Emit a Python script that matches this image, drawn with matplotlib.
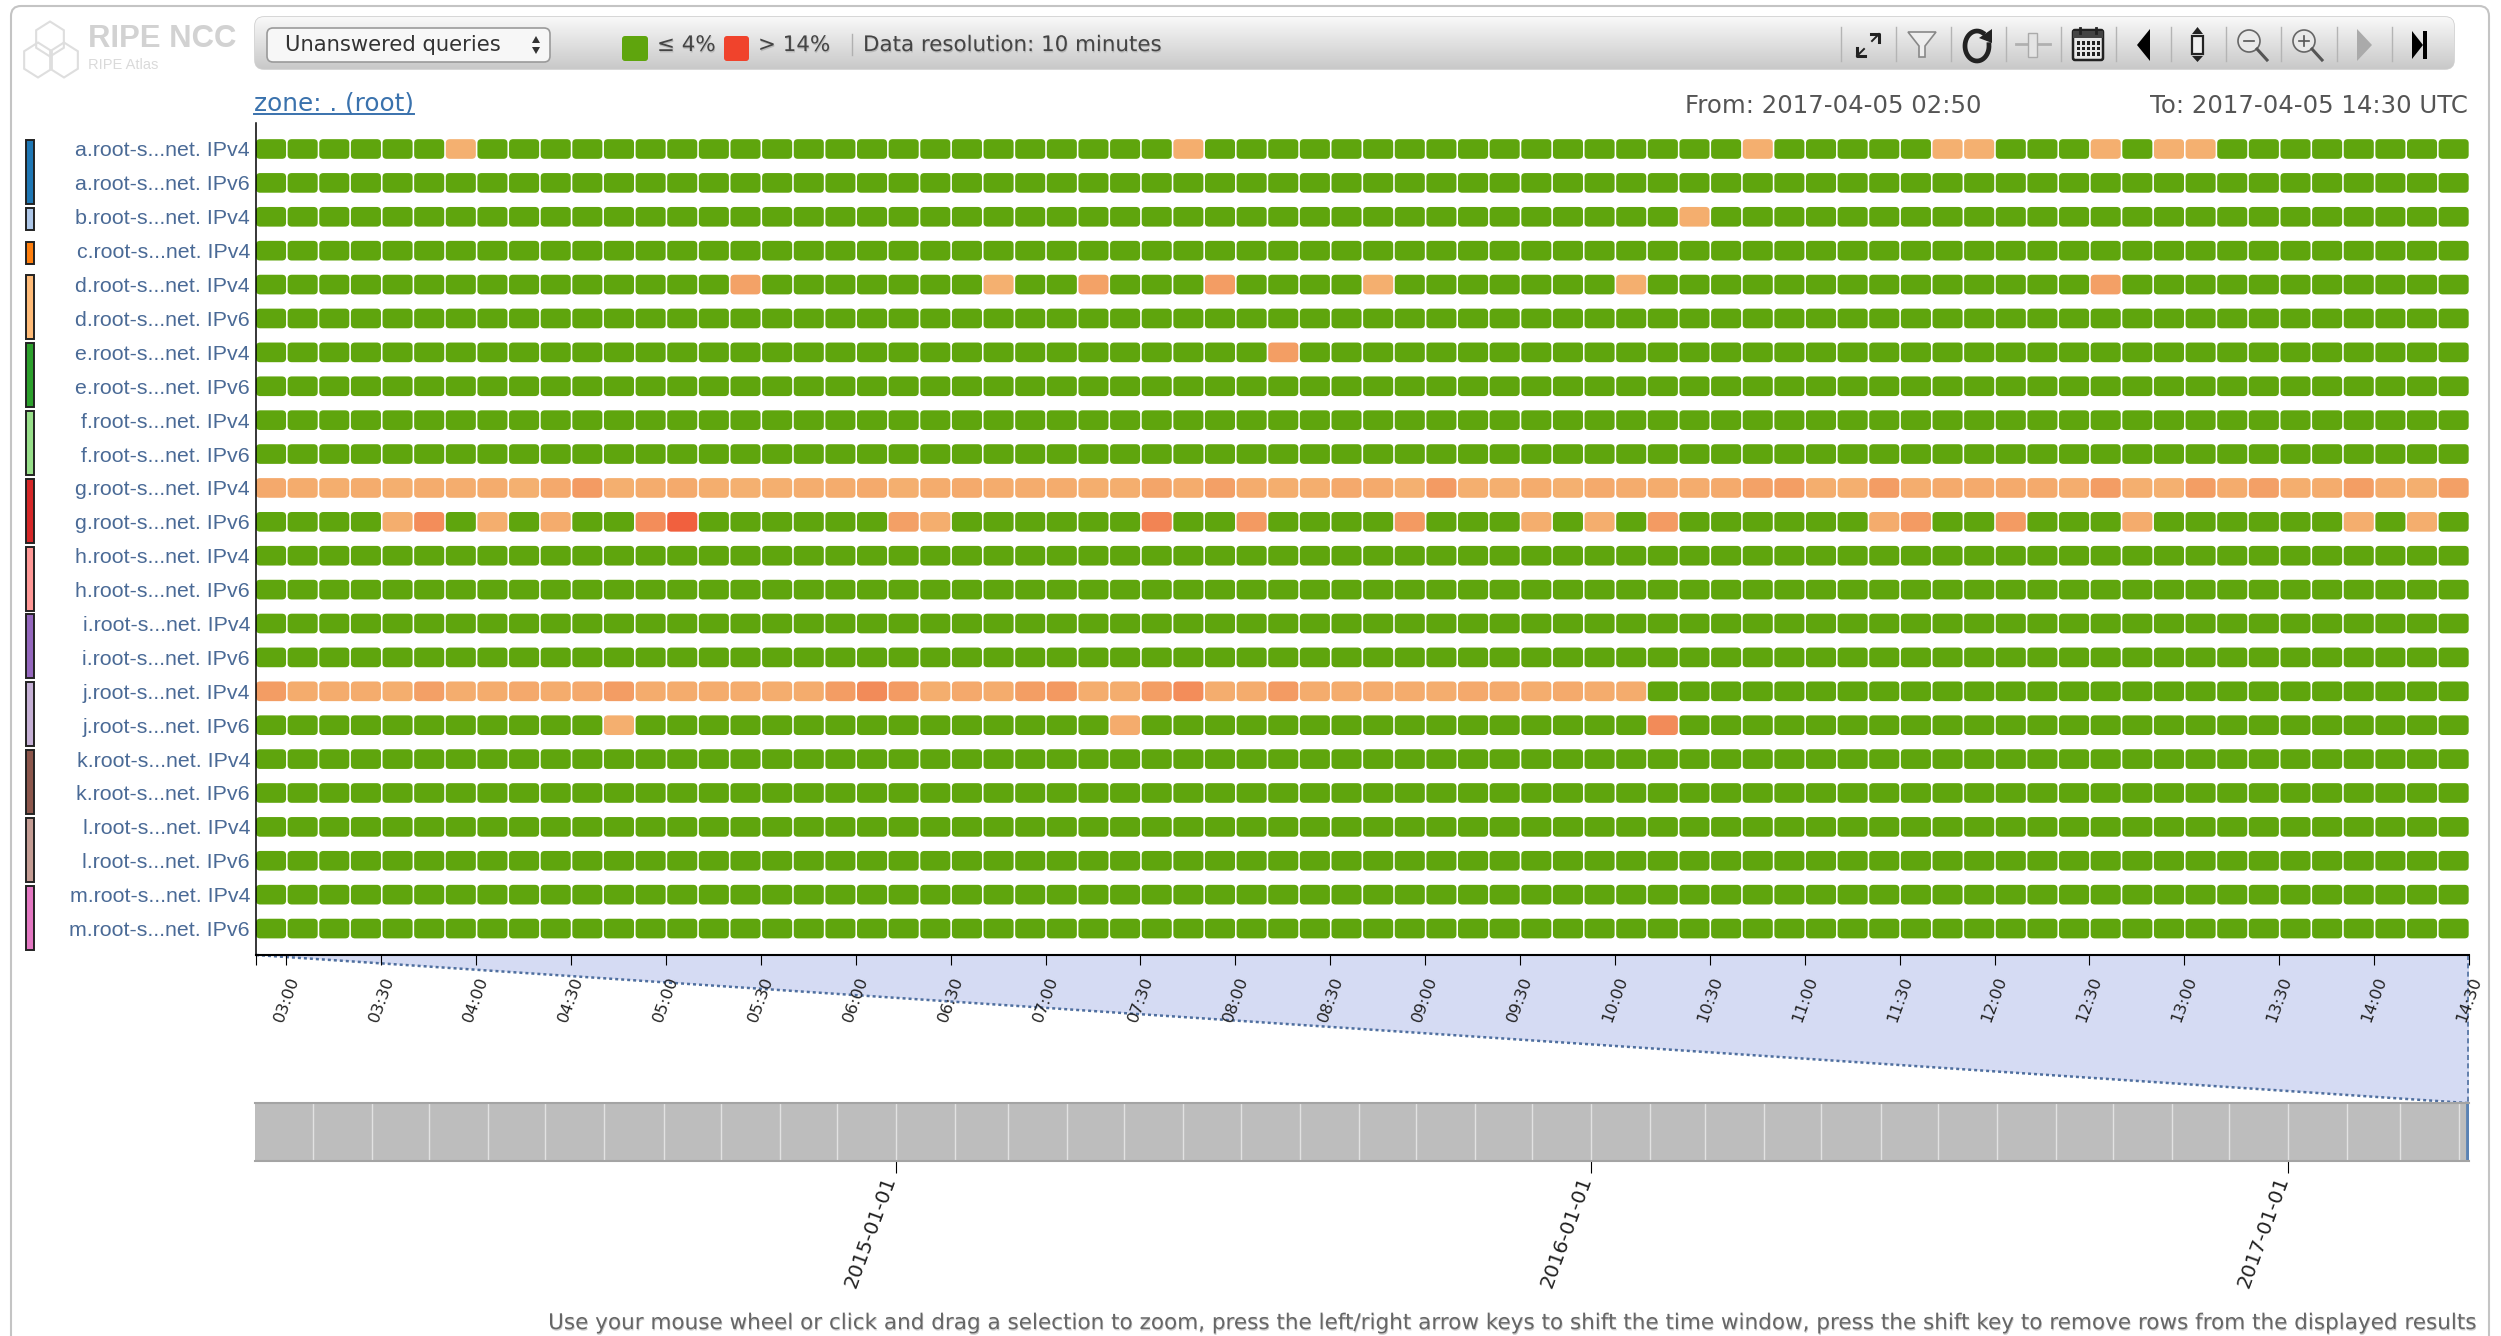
import matplotlib

matplotlib.use("Agg")
import matplotlib.patheffects as pe
import matplotlib.pyplot as plt
import numpy as np
import pandas as pd
from matplotlib.colors import LinearSegmentedColormap
from matplotlib.dates import date2num
from matplotlib.patches import Circle, FancyBboxPatch, Polygon, Rectangle
from matplotlib.transforms import ScaledTranslation

W, H = 2501, 1336

row_labels = [
    "a.root-s...net. IPv4", "a.root-s...net. IPv6", "b.root-s...net. IPv4", "c.root-s...net. IPv4",
    "d.root-s...net. IPv4", "d.root-s...net. IPv6", "e.root-s...net. IPv4", "e.root-s...net. IPv6",
    "f.root-s...net. IPv4", "f.root-s...net. IPv6", "g.root-s...net. IPv4", "g.root-s...net. IPv6",
    "h.root-s...net. IPv4", "h.root-s...net. IPv6", "i.root-s...net. IPv4", "i.root-s...net. IPv6",
    "j.root-s...net. IPv4", "j.root-s...net. IPv6", "k.root-s...net. IPv4", "k.root-s...net. IPv6",
    "l.root-s...net. IPv4", "l.root-s...net. IPv6", "m.root-s...net. IPv4", "m.root-s...net. IPv6",
]

# server letter -> colour of the bar left of the labels
server_colors = {
    "a": "#1f77b4", "b": "#aec7e8", "c": "#ff7f0e", "d": "#ffbb78", "e": "#2ca02c",
    "f": "#98df8a", "g": "#d62728", "h": "#ff9896", "i": "#9467bd", "j": "#c5b0d5",
    "k": "#8c564b", "l": "#c49c94", "m": "#e377c2",
}

n_cells = 70  # 02:50 to 14:30, one cell per 10 minutes

# unanswered queries in %, only the cells above the 4% threshold, per row
a_v4 = {6: 4.6, 29: 4.8, 47: 4.7, 53: 4.6, 54: 4.6, 58: 4.7, 60: 4.6, 61: 4.6}
b_v4 = {45: 4.8}
d_v4 = {15: 5.8, 23: 4.6, 26: 5.8, 30: 6.3, 35: 4.7, 43: 4.7, 58: 6.0}
e_v4 = {32: 6.2}
g_v4 = [
    5.2, 5.0, 4.8, 5.0, 4.7, 5.0, 4.9, 5.0, 4.6, 5.2, 6.4, 4.7, 5.0, 5.1, 4.8, 4.6, 4.7, 4.9, 5.0, 5.1,
    4.7, 5.0, 5.1, 5.0, 5.0, 5.0, 4.8, 4.8, 5.6, 5.0, 6.0, 5.0, 4.8, 4.8, 5.2, 5.1, 4.6, 6.4, 4.7, 4.7,
    5.0, 4.6, 5.1, 5.0, 5.0, 5.0, 5.1, 5.8, 6.2, 4.8, 4.7, 6.3, 4.9, 5.1, 5.1, 5.1, 5.1, 4.9, 6.3, 4.7,
    4.6, 6.2, 5.0, 6.0, 4.8, 5.0, 6.2, 5.0, 4.7, 6.0,
]
g_v6 = {
    4: 4.8, 5: 7.6, 7: 4.8, 9: 5.0, 12: 7.6, 13: 11.5, 20: 6.0, 21: 4.8, 28: 8.4, 31: 6.5, 36: 6.5,
    40: 4.8, 42: 4.8, 44: 6.4, 51: 5.0, 52: 6.4, 55: 6.4, 59: 5.0, 66: 4.8, 68: 4.8,
}
j_v4 = [
    6.3, 5.0, 5.0, 5.0, 4.8, 6.0, 4.9, 5.0, 5.2, 5.0, 5.2, 6.3, 5.0, 5.0, 5.0, 5.0, 4.9, 5.0, 6.3, 7.8,
    6.4, 4.8, 5.2, 5.0, 6.2, 6.6, 4.9, 4.9, 6.2, 7.6, 4.9, 5.0, 6.4, 5.0, 5.0, 5.0, 5.0, 4.9, 5.2, 5.1,
    4.9, 5.1, 5.0, 5.0,
]
j_v6 = {11: 4.7, 27: 5.0, 44: 7.8}

sparse_rows = {0: a_v4, 2: b_v4, 4: d_v4, 6: e_v4, 11: g_v6, 17: j_v6}
dense_rows = {10: g_v4, 16: j_v4}

time_tick_labels = [
    "03:00", "03:30", "04:00", "04:30", "05:00", "05:30", "06:00", "06:30", "07:00", "07:30", "08:00", "08:30",
    "09:00", "09:30", "10:00", "10:30", "11:00", "11:30", "12:00", "12:30", "13:00", "13:30", "14:00", "14:30",
]

overview_start = "2014-01-29 12:00"
overview_end = "2017-04-06 00:00"
selection_start = "2017-04-05 02:50"
selection_end = "2017-04-05 14:30"
overview_months = pd.date_range("2014-03-01", "2017-04-01", freq="MS")
overview_ticks = ["2015-01-01", "2016-01-01", "2017-01-01"]

GREEN = "#5fa50d"
RED = "#f0432c"
orange_scale = LinearSegmentedColormap.from_list("unanswered", ["#f4b774", RED])


def add_axes_px(fig, x0, y0, x1, y1, **kwargs):
    return fig.add_axes([x0 / W, 1 - y1 / H, (x1 - x0) / W, (y1 - y0) / H], **kwargs)


def cell_color(value):
    if value <= 4:
        return GREEN
    return orange_scale((value - 4) / 10)


def row_values(row):
    values = np.full(n_cells, 1.0)
    if row in dense_rows:
        dense = dense_rows[row]
        values[: len(dense)] = dense
    for cell, value in sparse_rows.get(row, {}).items():
        values[cell] = value
    return values


def draw_page(ax):
    """Frame, toolbar and logo, in pixel coordinates."""
    ax.add_patch(FancyBboxPatch((11, 6), 2478, 1400, boxstyle="round,pad=0,rounding_size=10",
                                fc="white", ec="#c4c4c4", lw=1.5))

    # logo
    for cx, cy in [(50, 39), (38, 60), (64, 60)]:
        angles = np.deg2rad(np.arange(30, 390, 60))
        ax.add_patch(Polygon(np.c_[cx + 16 * np.cos(angles), cy + 17.5 * np.sin(angles)],
                             closed=True, fc="none", ec="#dedede", lw=1.5))
    ax.text(88, 39, "RIPE NCC", family="Liberation Sans", weight="bold", fontsize=22.4, color="#d2d2d2", va="center")
    ax.text(88, 65, "RIPE Atlas", family="Liberation Sans", fontsize=10.5, color="#dadada", va="center")

    # toolbar
    bar = FancyBboxPatch((255, 17), 2199, 52, boxstyle="round,pad=0,rounding_size=9", fc="none",
                         ec="#d0d0d0", lw=1.2)
    ax.add_patch(bar)
    gradient = np.linspace(0, 1, 60)[:, None]
    img = ax.imshow(gradient, extent=(255, 2454, 69, 17), aspect="auto", zorder=1,
                    cmap=LinearSegmentedColormap.from_list("bar", ["#f8f8f8", "#c9c9c9"]))
    img.set_clip_path(bar)
    ax.set_xlim(0, W)
    ax.set_ylim(H, 0)

    shadow = [pe.withSimplePatchShadow(offset=(0.5, -1), shadow_rgbFace="#999999", alpha=0.5)]

    ax.add_patch(FancyBboxPatch((267, 28), 283, 34, boxstyle="round,pad=0,rounding_size=6", fc="#f7f7f7",
                                ec="#9a9a9a", lw=1.2, zorder=2))
    ax.text(285, 45, "Unanswered queries", fontsize=15.2, color="#333333", va="center", zorder=3)
    ax.add_patch(Polygon([(532, 43), (540, 43), (536, 36)], fc="#333333", zorder=3))
    ax.add_patch(Polygon([(532, 47), (540, 47), (536, 54)], fc="#333333", zorder=3))

    ax.add_patch(FancyBboxPatch((622, 36), 26, 25, boxstyle="round,pad=0,rounding_size=3", fc=GREEN, ec="none", zorder=2))
    ax.text(657, 45, "≤ 4%", fontsize=15.4, color="#444444", va="center", zorder=3, path_effects=shadow)
    ax.add_patch(FancyBboxPatch((724, 36), 25, 25, boxstyle="round,pad=0,rounding_size=3", fc=RED, ec="none", zorder=2))
    ax.text(758, 45, "> 14%", fontsize=15.4, color="#444444", va="center", zorder=3, path_effects=shadow)
    ax.plot([852, 852], [34, 55], color="#b0b0b0", lw=1, zorder=2)
    ax.text(863, 45, "Data resolution: 10 minutes", fontsize=15.4, color="#444444", va="center", zorder=3,
            path_effects=shadow)

    for sep in [1841, 1896, 1951, 2006, 2061, 2116, 2171, 2226, 2281, 2337, 2392]:
        ax.plot([sep, sep], [27, 61], color="#b4b4b4", lw=1, zorder=2)

    draw_icons(ax)

    ax.text(254, 103, "zone: . (root)", fontsize=17.8, color="#3a72ad", va="center")
    ax.plot([254, 414], [114, 114], color="#3a72ad", lw=1.4)
    ax.text(1685, 106, "From: 2017-04-05 02:50", fontsize=17.6, color="#555555", va="center")
    ax.text(2468, 106, "To: 2017-04-05 14:30 UTC", fontsize=17.6, color="#555555", va="center", ha="right")

    ax.text(2478, 1323, "Use your mouse wheel or click and drag a selection to zoom, press the left/right arrow keys "
            "to shift the time window, press the shift key to remove rows from the displayed results",
            fontsize=15.5, color="#666666", va="center", ha="right", path_effects=shadow)


def draw_icons(ax):
    z = 3
    dark = "#222222"
    # fullscreen arrows
    cx = 1868
    for sx, sy in [(-1, 1), (1, -1)]:
        ax.plot([cx + sx * 11, cx + sx * 11, cx + sx * 3], [45 + sy * 3, 45 + sy * 11, 45 + sy * 11], color=dark, lw=2.2, zorder=z)
        ax.plot([cx + sx * 11, cx + sx * 4], [45 + sy * 11, 45 + sy * 4], color=dark, lw=1.4, zorder=z)
    # funnel
    ax.add_patch(Polygon([(1908, 32), (1936, 32), (1925, 46), (1925, 57), (1919, 57), (1919, 46)],
                         fc="#eeeeee", ec="#888888", lw=1.2, zorder=z))
    # reload
    angles = np.deg2rad(np.linspace(-5, 300, 40))
    ax.plot(1977 + 12 * np.cos(angles), 46 + 15 * np.sin(angles), color=dark, lw=3.4, zorder=z)
    ax.add_patch(Polygon([(1979, 38), (1992, 29), (1992, 43)], fc=dark, zorder=z))
    # pale cross
    ax.plot([2016, 2050], [44, 44], color="#b0b0b0", lw=2, zorder=z)
    ax.add_patch(Rectangle((2028, 33), 9, 24, fc="#e4e4e4", ec="#aaaaaa", lw=1, zorder=z))
    # calendar
    ax.add_patch(FancyBboxPatch((2073, 30), 30, 30, boxstyle="round,pad=0,rounding_size=2", fc="#e8e8e8", ec=dark, lw=1.8, zorder=z))
    ax.add_patch(Rectangle((2073, 31), 30, 7, fc="#444444", ec="none", zorder=z))
    ax.plot([2080, 2080], [28, 33], color=dark, lw=2, zorder=z)
    ax.plot([2096, 2096], [28, 33], color=dark, lw=2, zorder=z)
    for col in range(5):
        for line in range(3):
            ax.add_patch(Rectangle((2077 + col * 5, 41 + line * 5.7), 3, 3.5, fc=dark, ec="none", zorder=z))
    # left triangle
    ax.add_patch(Polygon([(2137, 45), (2150, 29), (2150, 61)], fc="black", zorder=z))
    # up and down box
    ax.add_patch(Rectangle((2192, 36), 11, 18, fc="#efefef", ec=dark, lw=1.6, zorder=z))
    ax.add_patch(Polygon([(2192, 34), (2203, 34), (2197.5, 27)], fc=dark, zorder=z))
    ax.add_patch(Polygon([(2192, 56), (2203, 56), (2197.5, 62)], fc=dark, zorder=z))
    # zoom buttons
    for cx, plus in [(2250, False), (2305, True)]:
        ax.add_patch(Circle((cx - 1, 41), 11, fc="#e9e9e9", ec="#666666", lw=1.2, zorder=z))
        ax.plot([cx + 7, cx + 17], [49, 60], color="#555555", lw=2.2, zorder=z)
        ax.plot([cx - 6, cx + 4], [41, 41], color="#555555", lw=1.2, zorder=z)
        if plus:
            ax.plot([cx - 1, cx - 1], [36, 46], color="#555555", lw=1.2, zorder=z)
    # right triangle, disabled
    ax.add_patch(Polygon([(2357, 29), (2372, 45), (2357, 61)], fc="#aaaaaa", zorder=z))
    # skip to end
    ax.add_patch(Polygon([(2412, 31), (2423, 45), (2412, 59)], fc="black", zorder=z))
    ax.add_patch(Rectangle((2423, 31), 4, 28, fc="black", zorder=z))


def draw_heatmap(ax):
    for row in range(len(row_labels)):
        values = row_values(row)
        for cell in range(n_cells):
            ax.add_patch(FancyBboxPatch((10 * cell + 0.4, row - 0.29), 9.5, 0.58,
                                        boxstyle="round,pad=0,rounding_size=1.3", mutation_aspect=0.09,
                                        fc=cell_color(values[cell]), ec="none"))
    ax.set_xlim(0.4, 700)
    ax.set_ylim(23.78, -0.767)
    ax.patch.set_alpha(0)
    for side in ["top", "right"]:
        ax.spines[side].set_visible(False)
    ax.spines["left"].set_linewidth(1.1)
    ax.spines["bottom"].set_linewidth(1.5)

    ax.set_yticks(range(len(row_labels)))
    ax.set_yticklabels(row_labels, family="Liberation Sans", fontsize=15.4, color="#4a6a96")
    ax.tick_params(axis="y", length=0, pad=4.3)

    ticks = [0.4] + [10 + 30 * i for i in range(len(time_tick_labels))]
    ax.set_xticks(ticks)
    ax.set_xticklabels([""] + time_tick_labels, rotation=70, ha="center", va="top", fontsize=11.8, color="#222222")
    ax.tick_params(axis="x", length=7.2, width=0.8, pad=7)

    # colour bars by server
    letters = [label[0] for label in row_labels]
    bar_x = -230.5 / 2213
    bar_w = 8.5 / 2213
    transform = ax.get_yaxis_transform()
    for letter, color in server_colors.items():
        first = letters.index(letter)
        count = letters.count(letter)
        bottom = first + count - 1 + (0.62 if count > 1 else 0.38)
        ax.add_patch(Rectangle((bar_x, first - 0.27), bar_w, bottom - first + 0.27, transform=transform,
                               clip_on=False, fc=color, ec="#222222", lw=1.4))


def draw_overview(ax):
    ax.set_facecolor("#bdbdbd")
    ax.set_xlim(date2num(pd.Timestamp(overview_start)), date2num(pd.Timestamp(overview_end)))
    ax.set_ylim(0, 1)
    ax.set_yticks([])
    for month in overview_months:
        ax.axvline(date2num(month), color="#e2e2e2", lw=1)
    ax.axvspan(date2num(pd.Timestamp(selection_start)), date2num(pd.Timestamp(selection_end)), color="#5a82b4", lw=2)
    for side in ["left", "right"]:
        ax.spines[side].set_visible(False)
    for side in ["top", "bottom"]:
        ax.spines[side].set_color("#a4a4a4")
        ax.spines[side].set_linewidth(1.5)
    ax.set_xticks(date2num(pd.to_datetime(overview_ticks)))
    labels = ax.set_xticklabels(overview_ticks, rotation=70, ha="center", va="top", fontsize=14.5, color="#222222")
    ax.tick_params(axis="x", length=8.6, width=0.8, pad=0.5)
    shift = ScaledTranslation(-25 / 100, 0, ax.figure.dpi_scale_trans)
    for label in labels:
        label.set_transform(label.get_transform() + shift)


fig = plt.figure(figsize=(W / 100, H / 100), dpi=100)

page = fig.add_axes([0, 0, 1, 1], zorder=0)
page.set_axis_off()
page.set_xlim(0, W)
page.set_ylim(H, 0)
draw_page(page)

# shaded link between the overview selection and the main chart
page.add_patch(Polygon([(256, 955), (2469, 955), (2469, 1103), (2467, 1103)], fc="#d5dbf3", ec="none", zorder=1))
page.plot([256, 2467], [955, 1103], color="#4f6f9f", lw=1.8, ls=(0, (1.2, 1.2)), zorder=2)
page.plot([2468, 2468], [955, 1103], color="#4f6f9f", lw=1.2, ls=(0, (3, 2)), zorder=2)

main = add_axes_px(fig, 256, 123, 2469, 955, zorder=2)
draw_heatmap(main)

overview = add_axes_px(fig, 255, 1103, 2469, 1161, zorder=2)
draw_overview(overview)

fig.savefig("out.png", dpi=100, facecolor="white")
